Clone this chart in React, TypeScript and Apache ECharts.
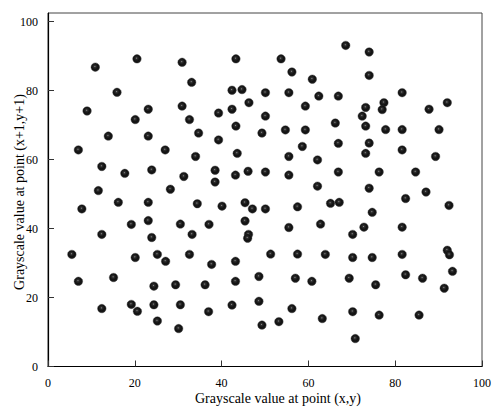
import React, { useEffect, useRef } from "react";
import * as echarts from "echarts";

const xTickLabels = ["0", "20", "40", "60", "80", "100"];
const yTickLabels = ["0", "20", "40", "60", "80", "100"];
const xTitle = "Grayscale value at point (x,y)";
const yTitle = "Grayscale value at point (x+1,y+1)";

const xValues = [
  10.9, 20.5, 30.9, 33.1, 15.9, 9.0, 23.1, 30.9, 20.1, 32.6,
  13.9, 23.1, 7.0, 27.0, 34.0, 12.4, 17.7, 23.9, 31.3, 11.6,
  28.2, 43.3, 53.7, 56.2, 60.9, 42.4, 44.7, 50.1, 55.5, 62.4,
  66.9, 46.3, 59.3, 39.3, 42.4, 50.1, 66.2, 34.7, 43.3, 49.3,
  54.7, 59.3, 39.3, 43.6, 55.5, 58.6, 62.1, 66.9, 38.5, 38.5,
  43.2, 46.1, 50.1, 55.5, 62.1, 66.9, 68.6, 74.0, 74.0, 81.6,
  77.4, 73.2, 77.0, 72.4, 87.8, 92.0, 73.2, 77.8, 81.6, 90.1,
  74.0, 73.2, 81.6, 89.3, 76.3, 84.7, 74.0, 87.1, 7.8, 16.2,
  23.1, 34.4, 19.2, 23.1, 30.5, 12.4, 23.9, 33.2, 5.5, 20.1,
  25.2, 27.1, 32.6, 7.0, 15.1, 24.4, 29.4, 12.4, 19.2, 20.6,
  24.4, 30.5, 25.2, 30.1, 40.1, 45.4, 47.1, 50.1, 57.5, 65.1,
  67.1, 37.1, 45.4, 55.5, 62.8, 46.2, 46.0, 51.3, 57.5, 63.9,
  37.7, 43.2, 48.6, 57.0, 60.8, 36.2, 43.2, 37.0, 42.4, 48.6,
  56.2, 63.2, 49.3, 53.2, 82.4, 92.4, 74.7, 72.8, 81.6, 70.2,
  70.2, 74.7, 81.6, 92.0, 92.5, 69.4, 75.5, 82.4, 86.3, 93.2,
  91.3, 70.2, 76.3, 85.5, 70.8,
];

const yValues = [
  86.8, 89.2, 88.2, 82.4, 79.5, 74.1, 74.6, 75.5, 71.6, 71.6,
  66.8, 66.8, 62.8, 62.8, 60.9, 58.0, 56.0, 57.0, 55.1, 51.0,
  51.4, 89.2, 89.2, 85.4, 83.3, 80.1, 80.3, 79.4, 79.4, 78.4,
  78.4, 76.5, 75.5, 73.5, 74.6, 72.6, 70.6, 67.7, 69.7, 67.7,
  68.6, 68.6, 65.7, 61.8, 60.9, 63.8, 59.9, 64.7, 56.9, 53.5,
  55.5, 56.6, 56.4, 55.5, 52.3, 56.4, 93.1, 91.2, 84.4, 79.4,
  76.5, 75.1, 74.5, 72.6, 74.6, 76.5, 69.7, 68.7, 68.7, 68.7,
  64.8, 61.8, 62.8, 60.9, 56.4, 56.4, 51.7, 50.6, 45.7, 47.6,
  47.6, 47.2, 41.2, 42.3, 41.3, 38.3, 37.4, 38.3, 32.5, 31.6,
  32.5, 30.5, 32.5, 24.7, 25.8, 23.3, 23.7, 16.8, 18.0, 16.0,
  17.9, 17.9, 13.2, 11.0, 46.5, 47.5, 45.7, 45.7, 46.3, 47.3,
  47.6, 41.2, 42.2, 40.3, 41.3, 38.3, 37.2, 32.6, 32.6, 32.5,
  29.6, 30.5, 26.1, 25.6, 24.7, 23.7, 24.7, 15.9, 17.8, 18.9,
  16.8, 13.9, 12.0, 13.0, 48.7, 46.7, 44.7, 40.4, 40.4, 38.3,
  31.6, 31.6, 32.5, 33.7, 32.4, 25.6, 23.7, 26.6, 25.6, 27.6,
  22.7, 15.9, 14.9, 14.9, 8.1,
];

const FONT = "Liberation Serif";

export default function App() {
  const ref = useRef<HTMLDivElement>(null);

  useEffect(() => {
    if (!ref.current) return;
    const chart = echarts.init(ref.current, null, { renderer: "svg" });
    const data = xValues.map((x, i) => [x, yValues[i]]);
    const sphere = {
      type: "radial",
      x: 0.45,
      y: 0.42,
      r: 0.58,
      colorStops: [
        { offset: 0, color: "#8a8a8a" },
        { offset: 0.2, color: "#2e2e2e" },
        { offset: 0.6, color: "#111111" },
        { offset: 1, color: "#1c1c1c" },
      ],
    };
    chart.setOption({
      animation: false,
      backgroundColor: "#ffffff",
      grid: {
        left: 48,
        right: 8,
        top: 13,
        bottom: 42.5,
        show: true,
        borderColor: "#444",
        borderWidth: 1,
        backgroundColor: "transparent",
      },
      xAxis: {
        type: "value",
        min: 0,
        max: 100,
        interval: 20,
        axisLine: { show: true, lineStyle: { color: "#000", width: 1.2 } },
        axisTick: { show: true, inside: true, length: 6, lineStyle: { color: "#333" } },
        axisLabel: {
          fontFamily: FONT,
          fontSize: 12,
          color: "#000",
          margin: 10,
          formatter: (v: number) => {
            const idx = Math.round(v / 20);
            return Math.abs(v - idx * 20) < 1e-6 ? xTickLabels[idx] ?? "" : "";
          },
        },
        splitLine: { show: false },
      },
      yAxis: {
        type: "value",
        min: 0,
        max: 102.5,
        interval: 20,
        axisLine: { show: true, lineStyle: { color: "#000", width: 1.2 } },
        axisTick: { show: true, inside: true, length: 6, lineStyle: { color: "#333" } },
        axisLabel: {
          fontFamily: FONT,
          fontSize: 12,
          color: "#000",
          margin: 10,
          showMaxLabel: false,
          formatter: (v: number) => {
            const idx = Math.round(v / 20);
            return Math.abs(v - idx * 20) < 1e-6 ? yTickLabels[idx] ?? "" : "";
          },
        },
        splitLine: { show: false },
      },
      graphic: [
        {
          type: "text",
          x: 278,
          y: 398,
          style: {
            text: xTitle,
            fontFamily: FONT,
            fontSize: 14,
            fill: "#000",
            align: "center",
            verticalAlign: "middle",
          },
        },
        {
          type: "text",
          x: 19,
          y: 192,
          rotation: Math.PI / 2,
          style: {
            text: yTitle,
            fontFamily: FONT,
            fontSize: 14,
            fill: "#000",
            align: "center",
            verticalAlign: "middle",
          },
        },
      ],
      series: [
        {
          type: "scatter",
          data,
          symbol: "circle",
          symbolSize: 8.5,
          itemStyle: { color: sphere as any, borderColor: "#333", borderWidth: 0.4, opacity: 1 },
        },
      ],
    });
    return () => chart.dispose();
  }, []);

  return (
    <div
      ref={ref}
      style={{ position: "fixed", left: 0, top: 0, width: 494, height: 409, background: "#fff" }}
    />
  );
}
